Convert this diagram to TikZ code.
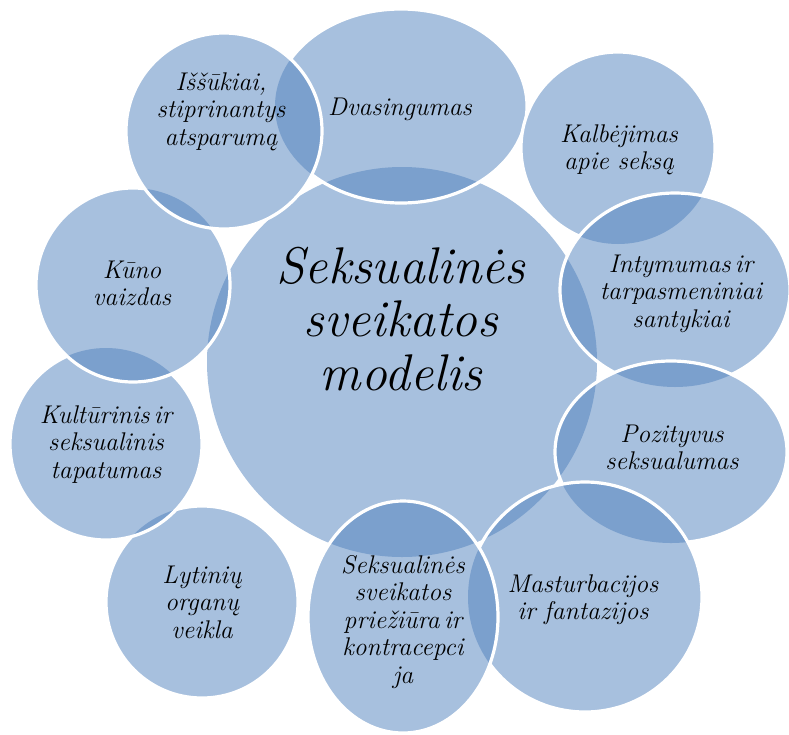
\documentclass[tikz,border=0pt]{standalone}
\usepackage{fontspec}
\definecolor{lightb}{HTML}{A7C0DE}
\definecolor{darkb}{HTML}{7BA0CD}
\tikzset{
  lbl/.style={font=\fontsize{25.6}{27.5}\selectfont\itshape\addfontfeatures{FakeBold=0.6}, text width=220pt, align=center, inner sep=0pt, anchor=base},
  ttl/.style={font=\fontsize{51.6}{53.5}\selectfont\itshape\addfontfeatures{FakeBold=0.4}, text width=400pt, align=center, inner sep=0pt, anchor=base},
  rim/.style={draw=white, line width=3.2pt}
}
\begin{document}
\begin{tikzpicture}[x=1pt,y=-1pt]
\useasboundingbox (0,0) rectangle (789,734);
\def\shapes{402/362/195/195, 401/106/126/97, 618/148/97/96, 675/290/115/97, 671/452/116/91, 585/597/117/115, 403/617/95/116, 202/602/96/96, 106/444/96/96, 133/285/97/97, 224/131/98/98}
\foreach \cx/\cy/\rx/\ry [count=\i] in \shapes {
  \fill[lightb] (\cx,\cy) ellipse [x radius=\rx pt, y radius=\ry pt];
  \foreach \dx/\dy/\sx/\sy [count=\j] in \shapes {
    \ifnum\j<\i
      \begin{scope}
        \clip (\cx,\cy) ellipse [x radius=\rx pt, y radius=\ry pt];
        \fill[darkb] (\dx,\dy) ellipse [x radius=\sx pt, y radius=\sy pt];
      \end{scope}
    \fi
  }
  \ifnum\i>1
    \draw[rim] (\cx,\cy) ellipse [x radius=\rx pt, y radius=\ry pt];
  \fi
}
\node[ttl] (title) at (401,283) {Seksualinės\\sveikatos\\modelis};
\node[lbl] (dvas) at (400,115) {Dvasingumas};
\node[lbl] (kalb) at (619,142) {Kalbėjimas\\apie seksą};
\node[lbl] (inty) at (681,272) {Intymumas\,ir\\tarpasmeniniai\\santykiai};
\node[lbl] (pozi) at (672,442) {Pozityvus\\seksualumas};
\node[lbl] (mast) at (583,592) {Masturbacijos\\ir fantazijos};
\node[lbl] (prie) at (403,573) {Seksualinės\\sveikatos\\priežiūra\,ir\\kontracepci\\ja};
\node[lbl] (lyti) at (202,583) {Lytinių\\organų\\veikla};
\node[lbl] (kult) at (106,423) {Kultūrinis\,ir\\seksualinis\\tapatumas};
\node[lbl] (kuno) at (132,278) {Kūno\\vaizdas};
\node[lbl] (issu) at (221,90) {Iššūkiai,\\stiprinantys\\atsparumą};
\end{tikzpicture}
\end{document}
